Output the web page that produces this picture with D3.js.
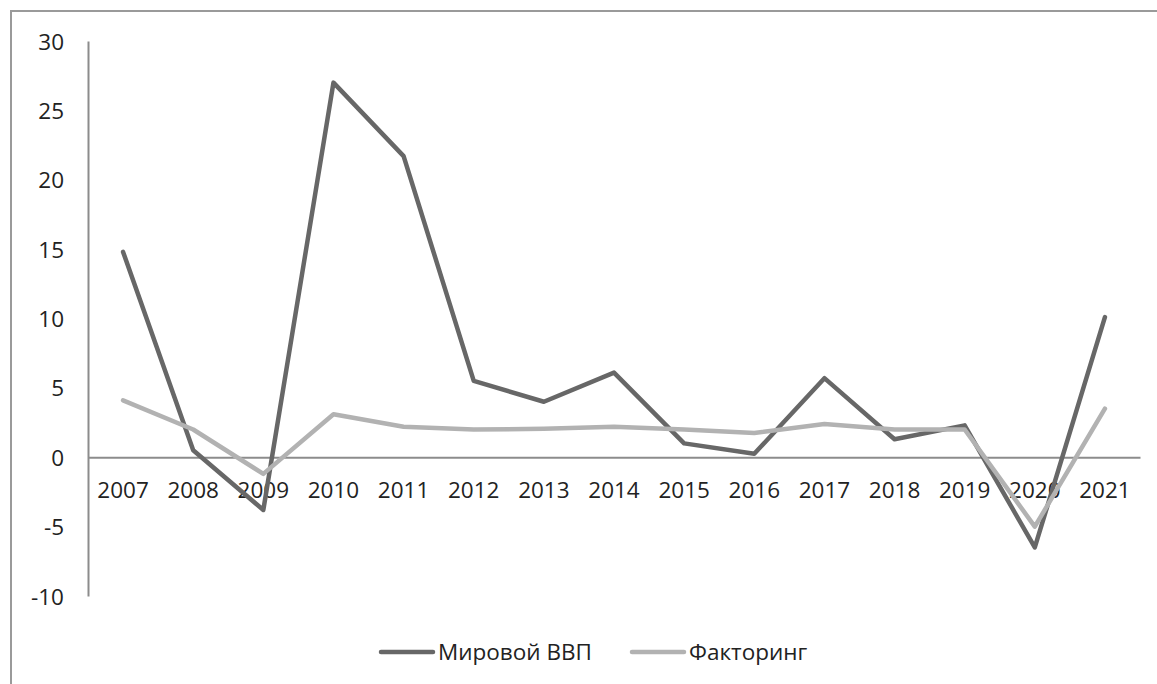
<!DOCTYPE html>
<html>
<head>
<meta charset="utf-8">
<script src="https://cdn.jsdelivr.net/npm/d3@7"></script>
<style>
  body { margin: 0; background: #fff; }
  svg { display: block; }
  .axis text { font-family: "Open Sans", sans-serif; font-size: 22.5px; fill: #222; }
  .legend text { font-family: "Open Sans", sans-serif; font-size: 22.5px; fill: #222; }
</style>
</head>
<body>
<div id="wrapper"></div>
<script>
const years = ["2007", "2008", "2009", "2010", "2011", "2012", "2013", "2014",
  "2015", "2016", "2017", "2018", "2019", "2020", "2021"]
const gdp = [14.8, 0.5, -3.8, 27.0, 21.7, 5.5, 4.0, 6.1, 1.0, 0.25, 5.7, 1.3, 2.3, -6.5, 10.1]
const factoring = [4.1, 2.0, -1.2, 3.1, 2.2, 2.0, 2.05, 2.2, 2.0, 1.75, 2.4, 2.0, 2.0, -5.0, 3.5]
const yTicks = [-10, -5, 0, 5, 10, 15, 20, 25, 30]
const seriesNames = ["Мировой ВВП", "Факторинг"]

function drawChart() {
  let dimensions = {
    width: 1157,
    height: 684,
    margin: { top: 41, right: 17, bottom: 88, left: 88 },
  }
  dimensions.boundedWidth = dimensions.width - dimensions.margin.left - dimensions.margin.right
  dimensions.boundedHeight = dimensions.height - dimensions.margin.top - dimensions.margin.bottom

  const wrapper = d3.select("#wrapper")
    .append("svg")
    .attr("width", dimensions.width)
    .attr("height", dimensions.height)

  // outer frame, runs off the right and bottom of the picture
  wrapper.append("rect")
    .attr("x", 11).attr("y", 11)
    .attr("width", dimensions.width + 20)
    .attr("height", dimensions.height + 20)
    .attr("fill", "none")
    .attr("stroke", "#9a9a9a")
    .attr("stroke-width", 2)

  const bounds = wrapper.append("g")
    .attr("transform", `translate(${dimensions.margin.left},${dimensions.margin.top})`)

  const yScale = d3.scaleLinear()
    .domain([-10, 30])
    .range([555, 0])
  const xScale = d3.scaleBand()
    .domain(years)
    .range([0, 1052])

  // y axis (plain hyphen for negatives, like the original)
  const yAxis = bounds.append("g")
    .attr("class", "axis")
    .call(d3.axisLeft(yScale).tickValues(yTicks).tickFormat(d => String(d))
      .tickSize(0).tickPadding(24))
  yAxis.select(".domain").attr("stroke", "#8c8c8c").attr("stroke-width", 2)
  yAxis.selectAll("text").attr("dy", "0.36em")

  // x axis along zero
  const xAxis = bounds.append("g")
    .attr("class", "axis")
    .attr("transform", `translate(0,${yScale(0)})`)
    .call(d3.axisBottom(xScale).tickSize(0).tickPadding(34))
  xAxis.select(".domain").attr("stroke", "#8c8c8c").attr("stroke-width", 2)
  xAxis.selectAll("text").attr("dy", "0.32em")

  const line = d3.line()
    .x((d, i) => xScale(years[i]) + xScale.bandwidth() / 2)
    .y(d => yScale(d))

  bounds.append("path")
    .datum(gdp)
    .attr("d", line)
    .attr("fill", "none")
    .attr("stroke", "#676767")
    .attr("stroke-width", 4.5)
    .attr("stroke-linejoin", "round")
    .attr("stroke-linecap", "round")

  bounds.append("path")
    .datum(factoring)
    .attr("d", line)
    .attr("fill", "none")
    .attr("stroke", "#b2b2b2")
    .attr("stroke-width", 4.5)
    .attr("stroke-linejoin", "round")
    .attr("stroke-linecap", "round")

  // legend
  const legend = wrapper.append("g").attr("class", "legend")
  const legendColors = ["#676767", "#b2b2b2"]
  const legendX = [381, 632]
  seriesNames.forEach((name, i) => {
    const g = legend.append("g").attr("transform", `translate(${legendX[i]},652)`)
    g.append("line")
      .attr("x1", 0).attr("x2", 52)
      .attr("stroke", legendColors[i])
      .attr("stroke-width", 4.5)
      .attr("stroke-linecap", "round")
    g.append("text")
      .attr("x", 57)
      .attr("dy", "0.35em")
      .text(name)
  })
}

drawChart()
</script>
</body>
</html>
